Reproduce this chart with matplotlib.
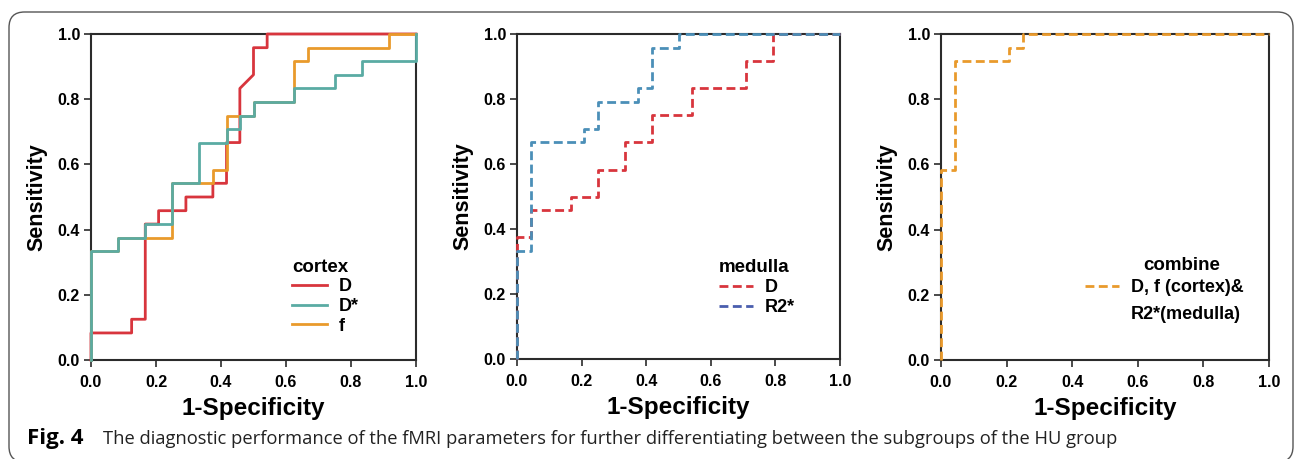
import matplotlib
matplotlib.use("Agg")
import matplotlib.pyplot as plt
from matplotlib.lines import Line2D
from matplotlib.patches import FancyBboxPatch

# ---------------- data ----------------
cortex_D_fpr = [0, 0, 0.125, 0.125, 0.167, 0.167, 0.208, 0.208, 0.292, 0.292, 0.375,
                0.375, 0.417, 0.417, 0.458, 0.458, 0.5, 0.5, 0.542, 0.542, 1.0]
cortex_D_tpr = [0, 0.083, 0.083, 0.125, 0.125, 0.417, 0.417, 0.458, 0.458, 0.5, 0.5,
                0.542, 0.542, 0.667, 0.667, 0.833, 0.875, 0.958, 0.958, 1.0, 1.0]

cortex_Dstar_fpr = [0, 0, 0.083, 0.083, 0.167, 0.167, 0.25, 0.25, 0.333, 0.333, 0.417, 0.417,
                    0.458, 0.458, 0.5, 0.5, 0.625, 0.625, 0.75, 0.75, 0.833, 0.833, 1.0, 1.0]
cortex_Dstar_tpr = [0, 0.333, 0.333, 0.375, 0.375, 0.417, 0.417, 0.542, 0.542, 0.667, 0.667, 0.708,
                    0.708, 0.75, 0.75, 0.792, 0.792, 0.833, 0.833, 0.875, 0.875, 0.917, 0.917, 1.0]

cortex_f_fpr = [0, 0, 0.083, 0.083, 0.25, 0.25, 0.375, 0.375, 0.417, 0.417, 0.5, 0.5,
                0.625, 0.625, 0.667, 0.667, 0.917, 0.917, 1.0]
cortex_f_tpr = [0, 0.333, 0.333, 0.375, 0.375, 0.542, 0.542, 0.583, 0.583, 0.75, 0.75, 0.792,
                0.792, 0.917, 0.917, 0.958, 0.958, 1.0, 1.0]

medulla_D_fpr = [0, 0, 0.042, 0.042, 0.167, 0.167, 0.25, 0.25, 0.333, 0.333, 0.417, 0.417,
                 0.542, 0.542, 0.708, 0.708, 0.792, 0.792, 1.0]
medulla_D_tpr = [0, 0.375, 0.375, 0.458, 0.458, 0.5, 0.5, 0.583, 0.583, 0.667, 0.667, 0.75,
                 0.75, 0.833, 0.833, 0.917, 0.917, 1.0, 1.0]

medulla_R2_fpr = [0, 0, 0.042, 0.042, 0.208, 0.208, 0.25, 0.25, 0.375, 0.375, 0.417, 0.417,
                  0.5, 0.5, 1.0]
medulla_R2_tpr = [0, 0.333, 0.333, 0.667, 0.667, 0.708, 0.708, 0.792, 0.792, 0.833, 0.833, 0.958,
                  0.958, 1.0, 1.0]

combine_fpr = [0, 0, 0.042, 0.042, 0.208, 0.208, 0.25, 0.25, 1.0]
combine_tpr = [0, 0.583, 0.583, 0.917, 0.917, 0.958, 0.958, 1.0, 1.0]

ticks = [0.0, 0.2, 0.4, 0.6, 0.8, 1.0]
tick_labels = ["0.0", "0.2", "0.4", "0.6", "0.8", "1.0"]

caption_bold = "Fig. 4"
caption_text = ("The diagnostic performance of the fMRI parameters for further differentiating "
                "between the subgroups of the HU group")

# ---------------- style ----------------
RED = "#d8353d"
TEAL = "#5aaba3"
ORANGE = "#e99a2c"
BLUE_LINE = "#4b8fb8"
BLUE_LEG = "#4a5eae"
SPINE = "#2b2b2b"

plt.rcParams["font.family"] = ["Liberation Sans", "DejaVu Sans"]

W, H = 1295, 459
fig = plt.figure(figsize=(W / 100, H / 100), dpi=100)

def px_axes(x0, y0, x1, y1):
    return fig.add_axes([x0 / W, 1 - y1 / H, (x1 - x0) / W, (y1 - y0) / H])

axes = [px_axes(91, 34, 416, 360), px_axes(517, 34, 840, 359), px_axes(941, 34, 1269, 360)]

for ax in axes:
    ax.set_xlim(0, 1)
    ax.set_ylim(0, 1)
    ax.set_xticks(ticks)
    ax.set_yticks(ticks)
    ax.set_xticklabels(tick_labels, fontsize=11.5, fontweight="bold")
    ax.set_yticklabels(tick_labels, fontsize=11.5, fontweight="bold")
    ax.tick_params(direction="out", length=5, width=1.2, color=SPINE)
    ax.tick_params(axis="x", pad=6)
    ax.tick_params(axis="y", pad=3)
    for s in ax.spines.values():
        s.set_linewidth(1.5)
        s.set_color(SPINE)
    ax.set_xlabel("1-Specificity", fontsize=17.5, fontweight="bold", labelpad=5)
    ax.set_ylabel("Sensitivity", fontsize=15.5, fontweight="bold", labelpad=7)

lw = 2.0
dash = (0, (3.2, 1.6))
leg_kw = dict(frameon=False, loc="lower left",
              prop={"weight": "bold", "size": 13},
              title_fontproperties={"weight": "bold", "size": 13.5},
              handlelength=1.9, handletextpad=0.65, labelspacing=0.15, borderpad=0)

ax = axes[0]
ax.plot(cortex_D_fpr, cortex_D_tpr, color=RED, lw=lw, clip_on=False, zorder=3)
ax.plot(cortex_f_fpr, cortex_f_tpr, color=ORANGE, lw=lw, clip_on=False, zorder=4)
ax.plot(cortex_Dstar_fpr, cortex_Dstar_tpr, color=TEAL, lw=lw, clip_on=False, zorder=5)
handles = [Line2D([], [], color=RED, lw=lw), Line2D([], [], color=TEAL, lw=lw),
           Line2D([], [], color=ORANGE, lw=lw)]
ax.legend(handles, ["D", "D*", "f"], title="cortex", bbox_to_anchor=(0.592, 0.05),
          alignment="left", **leg_kw)

ax = axes[1]
ax.plot(medulla_D_fpr, medulla_D_tpr, color=RED, lw=lw, ls=dash, clip_on=False, zorder=3)
ax.plot(medulla_R2_fpr, medulla_R2_tpr, color=BLUE_LINE, lw=lw, ls=dash, clip_on=False, zorder=4)
handles = [Line2D([], [], color=RED, lw=lw, ls=dash), Line2D([], [], color=BLUE_LEG, lw=lw, ls=dash)]
ax.legend(handles, ["D", "R2*"], title="medulla", bbox_to_anchor=(0.597, 0.105),
          alignment="left", **leg_kw)

ax = axes[2]
ax.plot(combine_fpr, combine_tpr, color=ORANGE, lw=lw, ls=dash, clip_on=False, zorder=3)
handles = [Line2D([], [], color=ORANGE, lw=lw, ls=dash), Line2D([], [], color="none", lw=0)]
kw3 = dict(leg_kw)
kw3["labelspacing"] = 0.55
ax.legend(handles, ["D, f (cortex)&", "R2*(medulla)"],
          bbox_to_anchor=(0.41, 0.085), **kw3)
ax.text(0.735, 0.291, "combine", transform=ax.transAxes, ha="center", va="center",
        fontsize=13.5, fontweight="bold")

# rounded border around the figure
border = FancyBboxPatch((9 / W, 1 - 462 / H), (1284) / W, 450 / H,
                        boxstyle="round,pad=0,rounding_size=0.012",
                        transform=fig.transFigure, fill=False, ec="#555555", lw=1.0,
                        mutation_aspect=W / H, clip_on=False)
fig.patches.append(border)

fig.text(27 / W, 1 - 444 / H, caption_bold, fontsize=16, fontweight="bold",
         family=["Open Sans", "DejaVu Sans"], va="baseline", ha="left")
fig.text(103 / W, 1 - 444 / H, caption_text, fontsize=13.2,
         family=["Open Sans", "DejaVu Sans"], va="baseline", ha="left", color="#222222")

fig.savefig("out.png", dpi=100)
